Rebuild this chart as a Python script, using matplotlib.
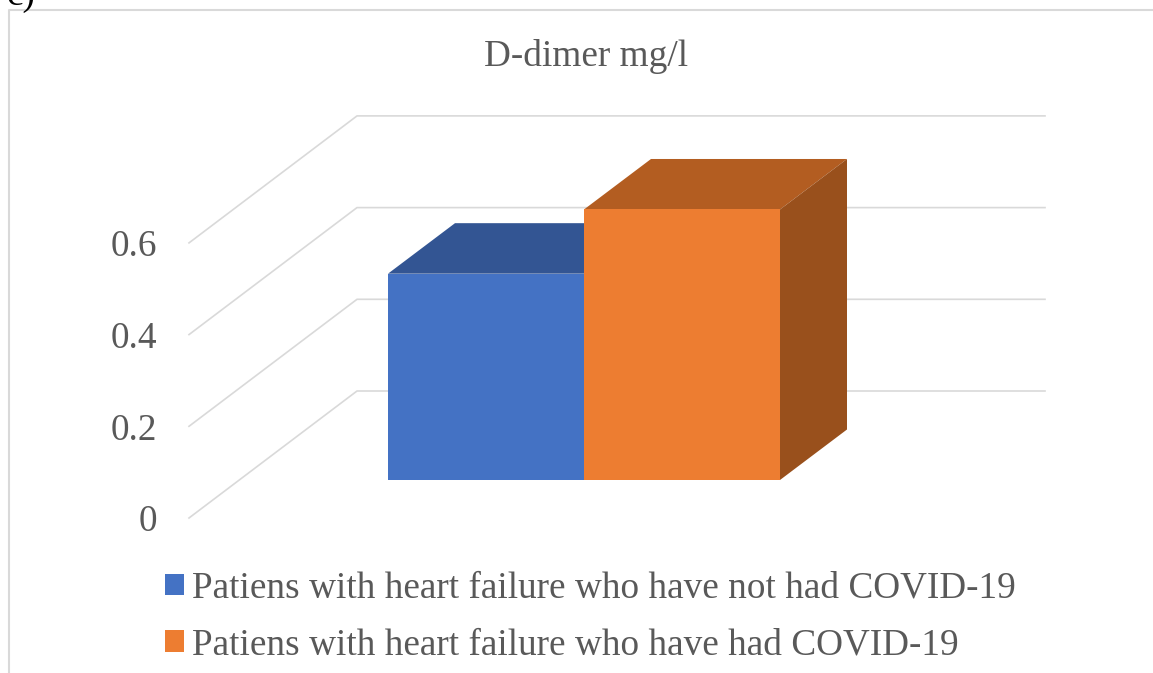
import numpy as np
import matplotlib
matplotlib.use('Agg')
import matplotlib.pyplot as plt
from matplotlib.lines import Line2D
from matplotlib.patches import Patch, Polygon

title = 'D-dimer mg/l'
panel_label = 'c)'
series_names = ['Patiens with heart failure who have not had COVID-19',
                'Patiens with heart failure who have had COVID-19']
values = [0.45, 0.59]
front_colors = ['#4472C4', '#ED7D31']
top_colors = ['#335593', '#B35D21']
side_colors = ['#2B4A80', '#99501C']
ticks = [0, 0.2, 0.4, 0.6]
tick_labels = ['0', '0.2', '0.4', '0.6']

TEXT = '#595959'
GRID = '#D9D9D9'
W, H = 1153, 673
PX_X = 196.0    # pixels per bar width
PX_Y = 458.5    # pixels per unit of value
X0, Y0 = 388, 480   # where the first bar starts on the floor

plt.rcParams['font.family'] = ['Liberation Serif', 'DejaVu Serif']

fig = plt.figure(figsize=(W / 100, H / 100), dpi=100)
ax = fig.add_axes([0, 0, 1, 1])
ax.set_xlim(-X0 / PX_X, (W - X0) / PX_X)
ax.set_ylim((Y0 - H) / PX_Y, Y0 / PX_Y)
ax.axis('off')

# depth of the fake 3D box and of the walls, in data units
depth_x = 67 / PX_X
depth_y = 50.5 / PX_Y
wall_x = [(189 - X0) / PX_X, (357 - X0) / PX_X, (1045 - X0) / PX_X]
wall_front = (Y0 - 518) / PX_Y
wall_back = (Y0 - 391) / PX_Y

for t, lab in zip(ticks, tick_labels):
    ax.plot(wall_x, [t + wall_front, t + wall_back, t + wall_back], color=GRID, lw=1.2, zorder=1)
    ax.text((157 - X0) / PX_X, t + wall_front, lab, ha='right', va='center_baseline',
            fontsize=26.8, color=TEXT)

for i, v in enumerate(values):
    ax.add_patch(Polygon([(i, v), (i + 1, v), (i + 1 + depth_x, v + depth_y), (i + depth_x, v + depth_y)],
                         closed=True, fc=top_colors[i], ec='none', zorder=2 + i))
    ax.add_patch(Polygon([(i + 1, 0), (i + 1 + depth_x, depth_y), (i + 1 + depth_x, v + depth_y), (i + 1, v)],
                         closed=True, fc=side_colors[i], ec='none', zorder=2 + i))
    ax.bar(i + 0.5, v, width=1, color=front_colors[i], zorder=2 + i)

ax.text((586 - X0) / PX_X, (Y0 - 66) / PX_Y, title, ha='center', va='baseline', fontsize=26.8, color=TEXT)

handles = [Patch(fc=c, ec='none') for c in front_colors]
leg = ax.legend(handles, series_names, loc='upper left', bbox_to_anchor=(165 / W, 1 - 571 / H),
                bbox_transform=fig.transFigure, frameon=False, fontsize=26.8, labelcolor=TEXT,
                handlelength=0.51, handleheight=0.51, handletextpad=0.215, labelspacing=0.6,
                borderpad=0, borderaxespad=0)

# chart frame, runs off the picture on the right and at the bottom
fig.add_artist(Line2D([9 / W, 9 / W, 1], [0, 1 - 10 / H, 1 - 10 / H], color=GRID, lw=1.5))
# panel letter, cut by the top of the picture
fig.text(7 / W, 1 - 5 / H, panel_label, fontsize=26.8, color='black', va='baseline')

fig.savefig('out.png', dpi=100)
